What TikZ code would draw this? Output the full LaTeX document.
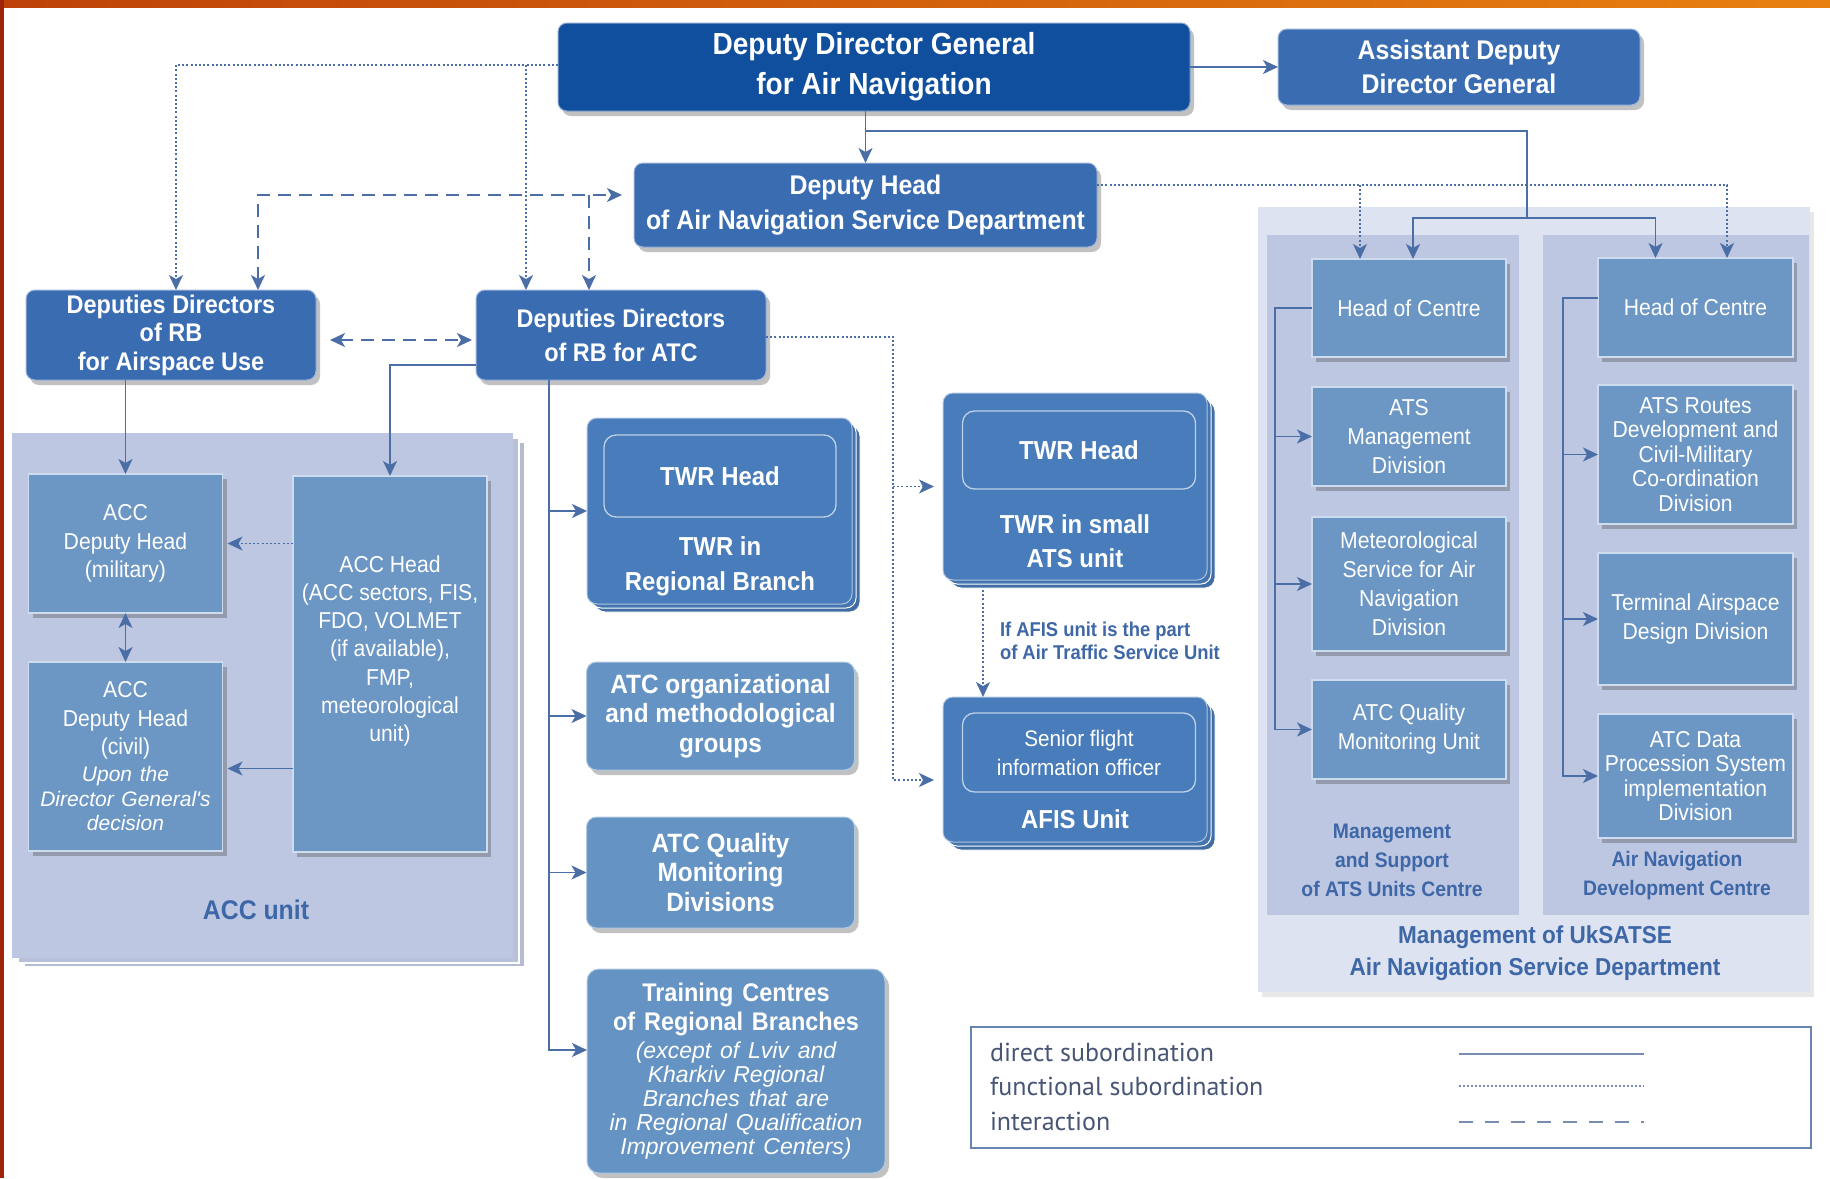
\documentclass[tikz,border=0pt]{standalone}
\usepackage{fontspec}
\setmainfont{Liberation Sans}[FakeStretch=0.92]
\newfontfamily\widefont{Liberation Sans}
\newfontfamily\legendfont{PT Sans}
\usetikzlibrary{arrows.meta,shadows,calc}
\definecolor{cDark}{RGB}{16,78,158}
\definecolor{cMid}{RGB}{58,108,178}
\definecolor{cTwr}{RGB}{72,124,186}
\definecolor{cCtr}{RGB}{100,147,196}
\definecolor{cSq}{RGB}{108,151,196}
\definecolor{cSqEdge}{RGB}{205,220,238}
\definecolor{cPanel}{RGB}{189,199,225}
\definecolor{cPanelOut}{RGB}{221,227,240}
\definecolor{cLine}{RGB}{74,110,165}
\definecolor{cLabel}{RGB}{62,103,168}
\definecolor{cLegendTxt}{RGB}{72,86,118}
\definecolor{cLegendLine}{RGB}{120,140,175}
\definecolor{cBandA}{RGB}{190,66,8}
\definecolor{cBandB}{RGB}{232,128,16}
\definecolor{cStrip}{RGB}{160,36,8}
\begin{document}
\begin{tikzpicture}[x=1pt,y=-1pt,
  every node/.style={inner sep=0pt,outer sep=0pt},
  boxshadow/.style={drop shadow={shadow xshift=4pt,shadow yshift=-5pt,opacity=0.32,fill=black!75}},
  topbox/.style={boxshadow,fill=cDark,draw=cDark!50!white,line width=1pt,rounded corners=9pt,text=white,align=center,font=\bfseries\fontsize{30.5}{40}\selectfont},
  midbox/.style={boxshadow,fill=cMid,draw=cMid!50!white,line width=1pt,rounded corners=9pt,text=white,align=center},
  twrbox/.style={fill=cTwr,draw=cTwr!45!white,line width=1pt,rounded corners=10pt,
     drop shadow={shadow xshift=7pt,shadow yshift=-8pt,opacity=0.28,fill=black!75},
     copy shadow={shadow xshift=8pt,shadow yshift=-8pt,fill=cTwr!88!black,draw=white,line width=1pt},
     copy shadow={shadow xshift=4pt,shadow yshift=-4pt,fill=cTwr!94!black,draw=white,line width=1pt}},
  innerbox/.style={draw=cTwr!35!white,line width=1.3pt,rounded corners=12pt,text=white,align=center},
  ctrbox/.style={boxshadow,fill=cCtr,draw=cCtr!50!white,line width=1pt,rounded corners=10pt,text=white,align=center,font=\bfseries\fontsize{26.5}{29.5}\selectfont},
  sqbox/.style={boxshadow,fill=cSq,draw=cSqEdge,line width=1.5pt,text=white,align=center,font=\fontsize{23}{29}\selectfont},
  whitetxt/.style={text=white,align=center},
  lbl/.style={text=cLabel,align=center,font=\bfseries\fontsize{21}{29}\selectfont},
  direct/.style={draw=cLine,line width=1.7pt},
  func/.style={direct,line width=1.5pt,dash pattern=on 2pt off 2.2pt},
  inter/.style={direct,dash pattern=on 13pt off 8pt},
  onetip/.style={-{Stealth[length=15pt,width=14pt,inset=4pt]}},
  twotips/.style={{Stealth[length=15pt,width=14pt,inset=4pt]}-{Stealth[length=15pt,width=14pt,inset=4pt]}},
  legtxt/.style={anchor=west,text=cLegendTxt,font=\legendfont\fontsize{26}{30}\selectfont}
]
\useasboundingbox (0,0) rectangle (1830,1178);
\fill[white] (0,0) rectangle (1830,1178);
\shade[left color=cBandA,right color=cBandB] (0,0) rectangle (1830,7);
\fill[cStrip] (0,0) rectangle (4,1178);

% ---------- panels ----------
\node[fill=cPanel,minimum width=501pt,minimum height=525pt,
  copy shadow={shadow xshift=12pt,shadow yshift=-9pt,fill=cPanel!85!gray,draw=white,line width=1.2pt},
  copy shadow={shadow xshift=6pt,shadow yshift=-5pt,fill=cPanel!92!gray,draw=white,line width=1.2pt}] (accunit) at (262.5,695.5) {};
\node[text=cLabel,font=\bfseries\fontsize{27}{30}\selectfont] (acclbl) at (256,910) {ACC unit};

\node[fill=cPanelOut,minimum width=552pt,minimum height=785pt,
  drop shadow={shadow xshift=4pt,shadow yshift=-5pt,opacity=0.15,fill=black!60}] (rpanel) at (1534,599.5) {};
\node[fill=cPanel,minimum width=252pt,minimum height=680pt] (lcentre) at (1393,575) {};
\node[fill=cPanel,minimum width=266pt,minimum height=680pt] (rcentre) at (1676,575) {};

% ---------- top boxes ----------
\node[topbox,minimum width=632pt,minimum height=88pt] (ddg) at (874,67) {Deputy Director General\\for Air Navigation};
\node[midbox,minimum width=362pt,minimum height=76pt,font=\bfseries\fontsize{27}{34}\selectfont] (addg) at (1459,67) {Assistant Deputy\\Director General};
\node[midbox,minimum width=463pt,minimum height=84pt,font=\bfseries\fontsize{27}{35}\selectfont] (dhans) at (865.5,205) {Deputy Head\\of Air Navigation Service Department};
\node[midbox,minimum width=290pt,minimum height=90pt,font=\bfseries\fontsize{25.5}{28.5}\selectfont] (dau) at (171,335) {Deputies Directors\\of RB\\for Airspace Use};
\node[midbox,minimum width=290pt,minimum height=90pt,font=\bfseries\fontsize{25.5}{34}\selectfont] (datc) at (621,335) {Deputies Directors\\of RB for ATC};

% ---------- ACC unit ----------
\node[sqbox,minimum width=194pt,minimum height=139pt,font=\fontsize{23}{28.3}\selectfont] (accm) at (125.5,543.5) {ACC\\Deputy Head\\(military)};
\node[sqbox,minimum width=194pt,minimum height=189pt,text width=190pt] (accc) at (125.5,756.5)
  {{\fontsize{23}{28.5}\selectfont ACC\\Deputy Head\\(civil)\par}\vspace{2.5pt}{\widefont\itshape\fontsize{21}{24.5}\selectfont Upon the\\Director General's\\decision\par}};
\node[sqbox,minimum width=194pt,minimum height=376pt] (acch) at (390,664) {};
\node[whitetxt,font=\fontsize{23}{28.3}\selectfont] (accht) at (390,651) {ACC Head\\(ACC sectors, FIS,\\FDO, VOLMET\\(if available),\\FMP,\\meteorological\\unit)};

% ---------- centre column ----------
\node[twrbox,minimum width=265pt,minimum height=186pt] (twrr) at (719.5,511) {};
\node[innerbox,minimum width=232pt,minimum height=82pt,font=\bfseries\fontsize{26}{30}\selectfont] (twrrh) at (720,476) {TWR Head};
\node[whitetxt,font=\bfseries\fontsize{26}{35}\selectfont] (twrrt) at (720,566) {TWR in\\Regional Branch};
\node[ctrbox,minimum width=268pt,minimum height=108pt] (atco) at (720.5,716) {ATC organizational\\and methodological\\groups};
\node[ctrbox,minimum width=268pt,minimum height=111pt] (atcqd) at (720.5,872.5) {ATC Quality\\Monitoring\\Divisions};
\node[ctrbox,minimum width=298pt,minimum height=204pt,text width=296pt,rounded corners=12pt] (train) at (736,1071)
  {{\bfseries\fontsize{25.5}{29}\selectfont Training Centres\\of Regional Branches\par}\vspace{4pt}{\widefont\itshape\mdseries\fontsize{23}{24}\selectfont (except of Lviv and\\Kharkiv Regional\\Branches that are\\in Regional Qualification\\Improvement Centers)\par}};

% ---------- TWR small / AFIS ----------
\node[twrbox,minimum width=264pt,minimum height=187pt] (twrs) at (1075,486.5) {};
\node[innerbox,minimum width=233pt,minimum height=78pt,font=\bfseries\fontsize{26}{30}\selectfont] (twrsh) at (1079,450) {TWR Head};
\node[whitetxt,font=\bfseries\fontsize{26}{34}\selectfont] (twrst) at (1075,541) {TWR in small\\ATS unit};
\node[twrbox,minimum width=264pt,minimum height=145pt] (afis) at (1075,769.5) {};
\node[innerbox,minimum width=233pt,minimum height=79pt,font=\fontsize{22.5}{29}\selectfont] (afish) at (1079,752.5) {Senior flight\\information officer};
\node[whitetxt,font=\bfseries\fontsize{26}{30}\selectfont] (afist) at (1075,819) {AFIS Unit};
\node[anchor=west,align=left,text=cLabel,font=\bfseries\fontsize{20}{23.5}\selectfont] (afislbl) at (1000,641) {If AFIS unit is the part\\of Air Traffic Service Unit};

% ---------- right centres ----------
\node[sqbox,minimum width=194pt,minimum height=98pt] (hoc1) at (1409,308) {Head of Centre};
\node[sqbox,minimum width=194pt,minimum height=99pt] (atsm) at (1409,436.5) {ATS\\Management\\Division};
\node[sqbox,minimum width=194pt,minimum height=134pt] (met) at (1409,584) {Meteorological\\Service for Air\\Navigation\\Division};
\node[sqbox,minimum width=194pt,minimum height=99pt] (atcq) at (1409,729.5) {ATC Quality\\Monitoring Unit};

\node[sqbox,minimum width=195pt,minimum height=99pt] (hoc2) at (1695.5,307.5) {Head of Centre};
\node[sqbox,minimum width=195pt,minimum height=139pt,font=\fontsize{23}{24.5}\selectfont] (atsr) at (1695.5,454.5) {ATS Routes\\Development and\\Civil-Military\\Co-ordination\\Division};
\node[sqbox,minimum width=195pt,minimum height=132pt] (tad) at (1695.5,619) {Terminal Airspace\\Design Division};
\node[sqbox,minimum width=195pt,minimum height=124pt,font=\fontsize{23}{24.5}\selectfont] (adps) at (1695.5,776) {ATC Data\\Procession System\\implementation\\Division};

\node[lbl] (lbl1) at (1392,860) {Management\\and Support\\of ATS Units Centre};
\node[lbl] (lbl2) at (1677,875.5) {Air Navigation\\Development Centre};
\node[lbl,font=\bfseries\fontsize{24.5}{32}\selectfont] (lbl3) at (1535,953) {Management of UkSATSE\\Air Navigation Service Department};

% ---------- legend ----------
\node[draw=cLine!85,line width=1.3pt,fill=white,minimum width=840pt,minimum height=121pt] (legend) at (1391,1087.5) {};
\node[legtxt] (leg1) at (990,1052) {direct subordination};
\node[legtxt] (leg2) at (990,1086) {functional subordination};
\node[legtxt] (leg3) at (990,1121) {interaction};
\coordinate (la1) at (1459,1054); \coordinate (la2) at (1644,1054);
\coordinate (lb1) at (1459,1086); \coordinate (lb2) at (1644,1086);
\coordinate (lc1) at (1459,1122); \coordinate (lc2) at (1644,1122);
\draw[draw=cLegendLine,line width=1.6pt] (la1) -- (la2);
\draw[draw=cLegendLine,line width=1.4pt,dash pattern=on 2pt off 2pt] (lb1) -- (lb2);
\draw[draw=cLegendLine,line width=1.6pt,dash pattern=on 14pt off 12pt] (lc1) -- (lc2);

% ---------- connectors ----------
\draw[direct,onetip] (ddg.east) -- (addg.west);
\draw[direct,onetip] (ddg.south -| dhans.north) -- (dhans.north);
\coordinate (j1) at (865.5,131);
\coordinate (j2) at (1527,218);
\draw[direct] (j1) -| (j2);
\draw[direct,onetip] (j2) -| ([xshift=4pt]hoc1.north);
\draw[direct,onetip] (j2) -| ([xshift=-40pt]hoc2.north);

\draw[func,onetip] ([yshift=20pt]dhans.east) -| ([xshift=31.5pt]hoc2.north);
\coordinate (f1) at (1360,185);
\draw[func,onetip] (f1) -- (f1 |- hoc1.north);

\draw[func,onetip] ([yshift=2pt]ddg.west) -| ([xshift=5pt]dau.north);
\coordinate (f2) at (526,65);
\draw[func,onetip] (f2) -- (f2 |- datc.north);

\draw[inter,twotips,shorten >=12pt] ([xshift=87pt]dau.north) |- ([yshift=10pt]dhans.west);
\coordinate (i1) at (589,195);
\draw[inter,onetip] (i1) -- (i1 |- datc.north);
\draw[inter,twotips,shorten <=14pt,shorten >=4pt] ([yshift=-5pt]dau.east) -- ([yshift=-5pt]datc.west);

\coordinate (f3) at (893,780);
\draw[func,onetip,shorten >=9pt] ([yshift=-2pt]datc.east) -| (f3) -- (f3 -| afis.west);
\draw[func,onetip,shorten >=9pt] (f3 |- twrs.west) -- (twrs.west);
\coordinate (f4) at (983,590);
\draw[func,onetip] (f4) -- (f4 |- afis.north);

\coordinate (v1) at ([xshift=-72pt]datc.south);
\draw[direct,onetip] (v1) |- ([yshift=21pt]train.west);
\draw[direct,onetip] (v1 |- twrr.west) -- (twrr.west);
\draw[direct,onetip] (v1 |- atco.west) -- (atco.west);
\draw[direct,onetip] (v1 |- atcqd.west) -- (atcqd.west);

\draw[direct,onetip] (dau.south -| accm.north) -- (accm.north);
\draw[direct,onetip] ([yshift=-30pt]datc.west) -| (acch.north);
\draw[func,onetip,shorten >=5pt] (acch.west |- accm.east) -- (accm.east);
\coordinate (c1) at ([yshift=-12pt]accc.east);
\draw[direct,onetip,shorten >=5pt] (acch.west |- c1) -- (c1);
\draw[direct,twotips] (accm.south) -- (accc.north);

\coordinate (s1) at (1275,308);
\draw[direct,onetip] (hoc1.west) -- (s1) |- (atcq.west);
\draw[direct,onetip] (s1 |- atsm.west) -- (atsm.west);
\draw[direct,onetip] (s1 |- met.west) -- (met.west);
\coordinate (s2) at (1563,298);
\draw[direct,onetip] (s2 -| hoc2.west) -- (s2) |- (adps.west);
\draw[direct,onetip] (s2 |- atsr.west) -- (atsr.west);
\draw[direct,onetip] (s2 |- tad.west) -- (tad.west);
\end{tikzpicture}
\end{document}
